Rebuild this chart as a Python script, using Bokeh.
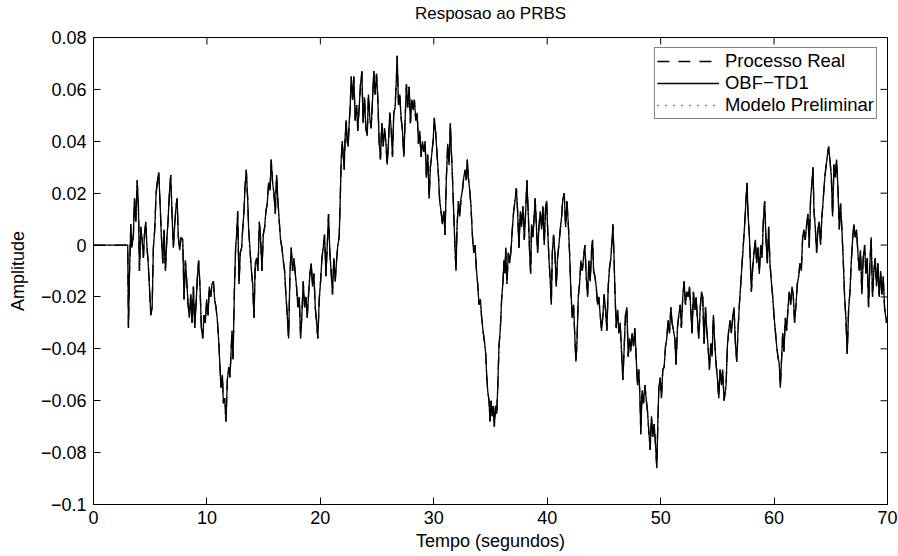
import math
from bokeh.plotting import figure
from bokeh.models import Range1d, FixedTicker, Legend, LegendItem, Title
from bokeh.embed import file_html
from bokeh.resources import INLINE

# (tempo [s], amplitude)
seg_a = [
    (0.00, 0.000), (3.02, 0.000), (3.08, -0.032), (3.17, -0.011), (3.29, 0.008), (3.38, -0.001),
    (3.52, 0.004), (3.61, 0.018), (3.73, 0.009), (3.85, 0.025), (3.96, 0.015), (4.05, -0.010),
    (4.17, 0.007), (4.29, 0.002), (4.40, -0.005), (4.49, 0.004), (4.61, 0.009), (4.70, 0.000),
    (4.81, -0.006), (4.93, -0.016), (5.05, -0.027), (5.17, -0.024), (5.28, -0.001), (5.40, 0.006),
    (5.52, 0.020), (5.64, 0.025), (5.75, 0.028), (5.87, 0.016), (5.99, 0.003), (6.11, -0.007),
    (6.22, 0.006), (6.34, -0.010), (6.46, 0.002), (6.57, 0.009), (6.69, 0.020), (6.81, 0.027),
    (6.93, 0.011), (7.04, -0.001), (7.16, 0.008), (7.28, 0.015), (7.37, 0.018), (7.48, 0.003),
    (7.60, -0.002), (7.72, 0.003), (7.87, 0.002), (7.98, -0.021), (8.10, -0.006), (8.22, -0.014),
    (8.34, -0.023), (8.45, -0.028), (8.57, -0.019), (8.69, -0.030), (8.81, -0.016), (8.92, -0.032),
    (9.04, -0.023), (9.16, -0.012), (9.27, -0.006), (9.39, -0.016), (9.51, -0.032), (9.63, -0.036),
    (9.74, -0.027), (9.86, -0.030), (9.98, -0.021), (10.10, -0.027), (10.21, -0.016), (10.33, -0.020),
    (10.45, -0.015), (10.57, -0.014), (10.68, -0.021), (10.80, -0.024), (10.92, -0.029), (11.04, -0.037),
    (11.15, -0.047), (11.24, -0.055), (11.36, -0.050), (11.45, -0.061), (11.56, -0.059), (11.68, -0.068),
    (11.80, -0.052), (11.92, -0.047), (12.03, -0.051), (12.12, -0.042), (12.21, -0.033), (12.30, -0.044),
    (12.42, -0.018), (12.53, -0.001), (12.62, 0.004), (12.71, 0.013), (12.83, -0.015), (12.94, -0.003),
    (13.06, -0.001), (13.15, 0.006), (13.27, 0.013), (13.35, 0.022), (13.47, 0.029), (13.59, 0.018),
    (13.68, 0.006), (13.80, -0.002), (13.91, -0.009),
]

seg_b = [
    (14.03, -0.015), (14.15, -0.028), (14.26, -0.007), (14.38, -0.005), (14.50, -0.010), (14.62, 0.009),
    (14.73, 0.003), (14.85, -0.010), (14.97, 0.004), (15.09, 0.007), (15.20, 0.013), (15.32, 0.016),
    (15.44, 0.024), (15.56, 0.021), (15.67, 0.033), (15.79, 0.024), (15.91, 0.020), (16.03, 0.012),
    (16.14, 0.027), (16.26, 0.017), (16.38, 0.009), (16.49, 0.002), (16.61, -0.001), (16.73, -0.006),
    (16.85, -0.010), (16.96, -0.019), (17.08, -0.027), (17.20, -0.036), (17.32, -0.011), (17.43, -0.001),
    (17.55, -0.010), (17.67, -0.005), (17.79, -0.011), (17.90, -0.016), (18.02, -0.024), (18.14, -0.020),
    (18.26, -0.036), (18.37, -0.027), (18.49, -0.014), (18.61, -0.024), (18.73, -0.020), (18.84, -0.028),
    (18.96, -0.019), (19.08, -0.011), (19.20, -0.007), (19.31, -0.016), (19.43, -0.011), (19.55, -0.024),
    (19.67, -0.030), (19.78, -0.036), (19.90, -0.021), (20.02, -0.014), (20.14, -0.005), (20.25, -0.001),
    (20.37, 0.004), (20.49, -0.012), (20.61, 0.000), (20.72, 0.012), (20.84, -0.003), (20.96, -0.011),
    (21.07, -0.019), (21.19, -0.005), (21.31, -0.014), (21.43, -0.006), (21.54, 0.000), (21.66, 0.003),
    (21.75, 0.017), (21.84, 0.033), (21.93, 0.040), (22.01, 0.035), (22.10, 0.029), (22.19, 0.042),
    (22.28, 0.048), (22.37, 0.040), (22.45, 0.038), (22.54, 0.047), (22.63, 0.053), (22.72, 0.065),
    (22.84, 0.056), (22.95, 0.065), (23.07, 0.048), (23.19, 0.054), (23.30, 0.044), (23.42, 0.053),
    (23.54, 0.062), (23.66, 0.067), (23.77, 0.047), (23.89, 0.057), (24.01, 0.045), (24.13, 0.042),
    (24.24, 0.058), (24.36, 0.049), (24.48, 0.045), (24.60, 0.056), (24.71, 0.067), (24.83, 0.058),
    (24.95, 0.066), (25.07, 0.056), (25.18, 0.040), (25.30, 0.033), (25.42, 0.047), (25.54, 0.038),
    (25.65, 0.045), (25.77, 0.040), (25.89, 0.031), (26.01, 0.040), (26.12, 0.051), (26.24, 0.045),
    (26.36, 0.034), (26.47, 0.051), (26.59, 0.053), (26.71, 0.065), (26.77, 0.073), (26.89, 0.054),
    (27.00, 0.058), (27.12, 0.049), (27.24, 0.044), (27.36, 0.034), (27.47, 0.048), (27.59, 0.062),
    (27.71, 0.053), (27.83, 0.061), (27.94, 0.047),
]

seg_c = [
    (28.06, 0.056), (28.18, 0.052), (28.29, 0.056), (28.41, 0.048), (28.53, 0.051), (28.65, 0.039),
    (28.76, 0.044), (28.88, 0.034), (29.00, 0.040), (29.12, 0.036), (29.23, 0.040), (29.35, 0.026),
    (29.47, 0.035), (29.59, 0.018), (29.70, 0.030), (29.82, 0.035), (29.94, 0.040), (30.05, 0.049),
    (30.17, 0.043), (30.29, 0.035), (30.41, 0.027), (30.52, 0.017), (30.64, 0.013), (30.76, 0.008),
    (30.88, 0.013), (30.99, 0.004), (31.11, 0.026), (31.23, 0.039), (31.35, 0.031), (31.46, 0.047),
    (31.55, 0.036), (31.64, 0.027), (31.76, 0.012), (31.87, -0.001), (31.96, -0.010), (32.05, 0.007),
    (32.17, 0.017), (32.29, 0.011), (32.40, 0.018), (32.52, 0.021), (32.64, 0.026), (32.75, 0.029),
    (32.87, 0.025), (32.96, 0.033), (33.05, 0.026), (33.17, 0.021), (33.28, 0.015), (33.40, 0.004),
    (33.52, -0.003), (33.64, 0.000), (33.75, -0.009), (33.87, -0.015), (33.99, -0.023), (34.11, -0.021),
    (34.22, -0.028), (34.34, -0.033), (34.46, -0.037), (34.58, -0.042), (34.66, -0.050), (34.75, -0.056),
    (34.87, -0.060), (34.96, -0.068), (35.05, -0.060), (35.15, -0.066), (35.25, -0.062), (35.34, -0.070),
    (35.45, -0.062), (35.55, -0.065), (35.63, -0.056), (35.75, -0.039), (35.87, -0.032), (35.98, -0.021),
    (36.10, -0.014), (36.19, -0.006), (36.28, -0.011), (36.34, -0.001), (36.45, -0.015), (36.57, -0.003),
    (36.69, -0.007), (36.81, -0.002), (36.92, 0.006), (37.04, 0.013), (37.16, 0.017), (37.28, 0.022),
    (37.39, 0.013), (37.51, -0.001), (37.63, 0.013), (37.74, 0.007), (37.86, 0.015), (37.98, 0.002),
    (38.10, 0.013), (38.21, 0.025), (38.33, 0.012), (38.45, -0.003), (38.54, -0.011), (38.62, 0.008),
    (38.74, 0.003), (38.86, 0.012), (38.94, 0.018), (39.04, 0.008), (39.15, -0.003), (39.27, 0.007),
    (39.39, 0.013), (39.51, 0.006), (39.62, 0.015), (39.74, 0.000), (39.86, 0.015), (39.95, 0.017),
    (40.03, 0.007), (40.15, -0.005), (40.27, -0.014), (40.36, -0.023), (40.45, -0.003), (40.56, 0.004),
    (40.68, -0.003), (40.80, -0.016), (40.91, -0.005), (41.03, 0.000), (41.15, 0.006), (41.27, 0.011),
    (41.38, 0.018), (41.50, 0.020), (41.62, 0.007), (41.74, 0.017), (41.85, 0.009),
]

seg_d = [
    (41.97, -0.003), (42.09, -0.018), (42.21, -0.028), (42.32, -0.023), (42.44, -0.036), (42.53, -0.045),
    (42.62, -0.038), (42.74, -0.020), (42.85, -0.015), (42.97, -0.006), (43.09, -0.010), (43.20, -0.005),
    (43.32, 0.000), (43.44, -0.012), (43.56, -0.020), (43.67, -0.006), (43.79, -0.014), (43.91, -0.002),
    (44.00, 0.002), (44.09, -0.010), (44.20, -0.012), (44.32, -0.016), (44.44, -0.023), (44.55, -0.020),
    (44.67, -0.027), (44.79, -0.033), (44.91, -0.027), (45.02, -0.019), (45.14, -0.025), (45.26, -0.033),
    (45.38, -0.016), (45.49, -0.009), (45.61, -0.005), (45.73, 0.003), (45.79, 0.008), (45.88, -0.003),
    (45.96, -0.016), (46.08, -0.032), (46.20, -0.025), (46.32, -0.034), (46.43, -0.030), (46.55, -0.041),
    (46.67, -0.052), (46.79, -0.039), (46.90, -0.027), (47.02, -0.024), (47.14, -0.043), (47.26, -0.036),
    (47.37, -0.041), (47.49, -0.034), (47.61, -0.039), (47.72, -0.032), (47.84, -0.043), (47.96, -0.054),
    (48.08, -0.048), (48.19, -0.061), (48.25, -0.073), (48.37, -0.056), (48.49, -0.061), (48.61, -0.054),
    (48.72, -0.059), (48.84, -0.064), (48.96, -0.072), (49.08, -0.079), (49.19, -0.066), (49.31, -0.074),
    (49.43, -0.069), (49.55, -0.077), (49.66, -0.086), (49.75, -0.069), (49.84, -0.055), (49.96, -0.051),
    (50.07, -0.059), (50.19, -0.048), (50.31, -0.047), (50.43, -0.039), (50.54, -0.036), (50.66, -0.029),
    (50.78, -0.034), (50.90, -0.024), (51.01, -0.030), (51.13, -0.033), (51.25, -0.036), (51.36, -0.046),
    (51.48, -0.032), (51.60, -0.027), (51.72, -0.023), (51.83, -0.032), (51.95, -0.020), (52.07, -0.014),
    (52.19, -0.023), (52.30, -0.018), (52.42, -0.020), (52.54, -0.016), (52.66, -0.025), (52.77, -0.034),
    (52.89, -0.018), (53.01, -0.025), (53.13, -0.020), (53.24, -0.028), (53.36, -0.036), (53.48, -0.025),
    (53.60, -0.018), (53.71, -0.020), (53.83, -0.038), (53.95, -0.024), (54.07, -0.033), (54.18, -0.039),
    (54.30, -0.048), (54.42, -0.038), (54.53, -0.043), (54.65, -0.027), (54.77, -0.038), (54.89, -0.046),
    (55.00, -0.051), (55.12, -0.059), (55.24, -0.048), (55.36, -0.054), (55.47, -0.048), (55.59, -0.060),
    (55.77, -0.054),
]

seg_e = [
    (55.88, -0.039), (56.00, -0.033), (56.12, -0.029), (56.24, -0.034), (56.35, -0.028), (56.47, -0.024),
    (56.59, -0.038), (56.71, -0.045), (56.82, -0.033), (56.94, -0.023), (57.06, -0.015), (57.18, -0.007),
    (57.29, 0.000), (57.41, 0.008), (57.53, 0.018), (57.62, 0.024), (57.70, 0.012), (57.82, 0.004),
    (57.91, -0.007), (58.00, -0.018), (58.11, -0.009), (58.23, -0.003), (58.35, 0.002), (58.47, -0.007),
    (58.58, -0.001), (58.70, -0.011), (58.82, 0.000), (58.94, -0.005), (59.05, 0.009), (59.17, 0.017),
    (59.29, 0.002), (59.41, -0.007), (59.52, 0.007), (59.64, -0.007), (59.76, -0.014), (59.88, -0.020),
    (59.99, -0.027), (60.11, -0.033), (60.23, -0.039), (60.34, -0.043), (60.46, -0.046), (60.55, -0.055),
    (60.64, -0.046), (60.76, -0.034), (60.87, -0.041), (60.99, -0.028), (61.11, -0.033), (61.23, -0.024),
    (61.34, -0.018), (61.46, -0.023), (61.58, -0.016), (61.70, -0.020), (61.81, -0.030), (61.93, -0.023),
    (62.05, -0.015), (62.17, -0.012), (62.28, -0.007), (62.40, -0.010), (62.52, 0.003), (62.63, 0.006),
    (62.75, 0.002), (62.87, 0.008), (62.99, 0.012), (63.10, -0.001), (63.22, 0.018), (63.34, 0.024),
    (63.43, 0.030), (63.52, 0.013), (63.63, 0.007), (63.75, -0.003), (63.87, 0.006), (63.99, 0.009),
    (64.10, 0.000), (64.22, 0.011), (64.34, 0.018), (64.45, 0.025), (64.57, 0.030), (64.69, 0.034),
    (64.81, 0.038), (64.92, 0.033), (65.04, 0.027), (65.16, 0.011), (65.28, 0.031), (65.39, 0.026),
    (65.51, 0.033), (65.63, 0.022), (65.75, 0.006), (65.86, 0.016), (65.98, 0.006), (66.10, -0.006),
    (66.22, -0.020), (66.33, -0.028), (66.45, -0.042), (66.57, -0.025), (66.69, -0.018), (66.80, -0.007),
    (66.92, 0.002), (67.04, 0.008), (67.16, 0.003), (67.27, 0.006), (67.39, -0.003), (67.51, -0.010),
    (67.62, -0.002), (67.74, -0.019), (67.86, -0.005), (67.98, 0.000), (68.09, -0.011), (68.21, -0.005),
    (68.33, -0.024), (68.45, -0.007), (68.56, 0.003), (68.68, -0.020), (68.80, -0.010), (68.92, -0.005),
    (69.03, -0.016), (69.15, -0.007), (69.27, -0.020), (69.39, -0.010), (69.50, -0.019), (69.62, -0.012),
    (69.74, -0.024), (69.91, -0.030), (70.00, -0.028),
]

x_ticks = [0, 10, 20, 30, 40, 50, 60, 70]
x_tick_labels = ["0", "10", "20", "30", "40", "50", "60", "70"]
y_ticks = [-0.1, -0.08, -0.06, -0.04, -0.02, 0.0, 0.02, 0.04, 0.06, 0.08]
y_tick_labels = ["\u22120.1", "\u22120.08", "\u22120.06", "\u22120.04", "\u22120.02", "0",
                 "0.02", "0.04", "0.06", "0.08"]

series_names = ["Processo Real", "OBF\u2212TD1", "Modelo Preliminar"]
series_dash = ["12 9", "solid", "1 7"]

titulo = "Resposao ao PRBS"

pontos = seg_a + seg_b + seg_c + seg_d + seg_e
tempo = [t for t, _ in pontos]
amplitude = [v for _, v in pontos]

X_MIN, X_MAX = 0, 70
Y_MIN, Y_MAX = -0.1, 0.08

FONT = "Liberation Sans"
FS = "18px"

p = figure(width=898, height=556, output_backend="svg", toolbar_location=None,
           x_range=Range1d(X_MIN, X_MAX), y_range=Range1d(Y_MIN, Y_MAX),
           min_border_left=93, min_border_right=11, min_border_top=37, min_border_bottom=52,
           background_fill_color="white", border_fill_color="white")
p.grid.visible = False
p.outline_line_color = "black"
p.outline_line_width = 1
p.title.text = ""

# spacer panel next to the frame, then the real title above it
p.add_layout(Title(text=" ", text_font_size="1px", standoff=12), "above")
p.add_layout(Title(text=titulo, align="center", standoff=0, text_font=FONT,
                   text_font_size="17px", text_font_style="normal", text_color="black"), "above")


def style_axis(ax, ticks, labels, label):
    ax.ticker = FixedTicker(ticks=ticks)
    ax.major_tick_in = 7
    ax.major_tick_out = 0
    ax.minor_tick_in = 0
    ax.minor_tick_out = 0
    ax.axis_line_color = "black"
    ax.major_tick_line_color = "black"
    ax.major_label_text_font = FONT
    ax.major_label_text_color = "black"
    ax.major_label_overrides = {tk: lb for tk, lb in zip(ticks, labels)}
    ax.major_label_text_font_size = FS
    ax.axis_label = label
    ax.axis_label_text_font = FONT
    ax.axis_label_text_font_size = FS
    ax.axis_label_text_font_style = "normal"
    ax.axis_label_text_color = "black"


xa = p.xaxis[0]
style_axis(xa, x_ticks, x_tick_labels, "Tempo (segundos)")
xa.major_label_standoff = 6
xa.axis_label_standoff = 4

ya = p.yaxis[0]
style_axis(ya, y_ticks, y_tick_labels, "Amplitude")
ya.major_label_standoff = 7
ya.axis_label_standoff = 10

# inward ticks on the top and right sides of the box (MATLAB "box on")
p.ray(x=x_ticks, y=[Y_MAX] * len(x_ticks), length=7, length_units="screen",
      angle=-math.pi / 2, line_color="black", line_width=1)
p.ray(x=[X_MAX] * len(y_ticks), y=y_ticks, length=7, length_units="screen",
      angle=math.pi, line_color="black", line_width=1)

items = []
for name, dash in zip(series_names, series_dash):
    r = p.line(tempo, amplitude, line_color="black", line_width=1.3, line_dash=dash)
    items.append(LegendItem(label=name, renderers=[r]))

legend = Legend(items=items, location="top_right", margin=10, padding=2, spacing=0,
                glyph_width=62, glyph_height=18, label_height=18, label_standoff=6,
                label_text_font=FONT, label_text_font_size="18.5px", label_text_color="black",
                label_text_line_height=0.9,
                border_line_color="black", border_line_width=1,
                background_fill_color="white", background_fill_alpha=1.0)
p.add_layout(legend)

open("out.html", "w").write(file_html(p, INLINE))
